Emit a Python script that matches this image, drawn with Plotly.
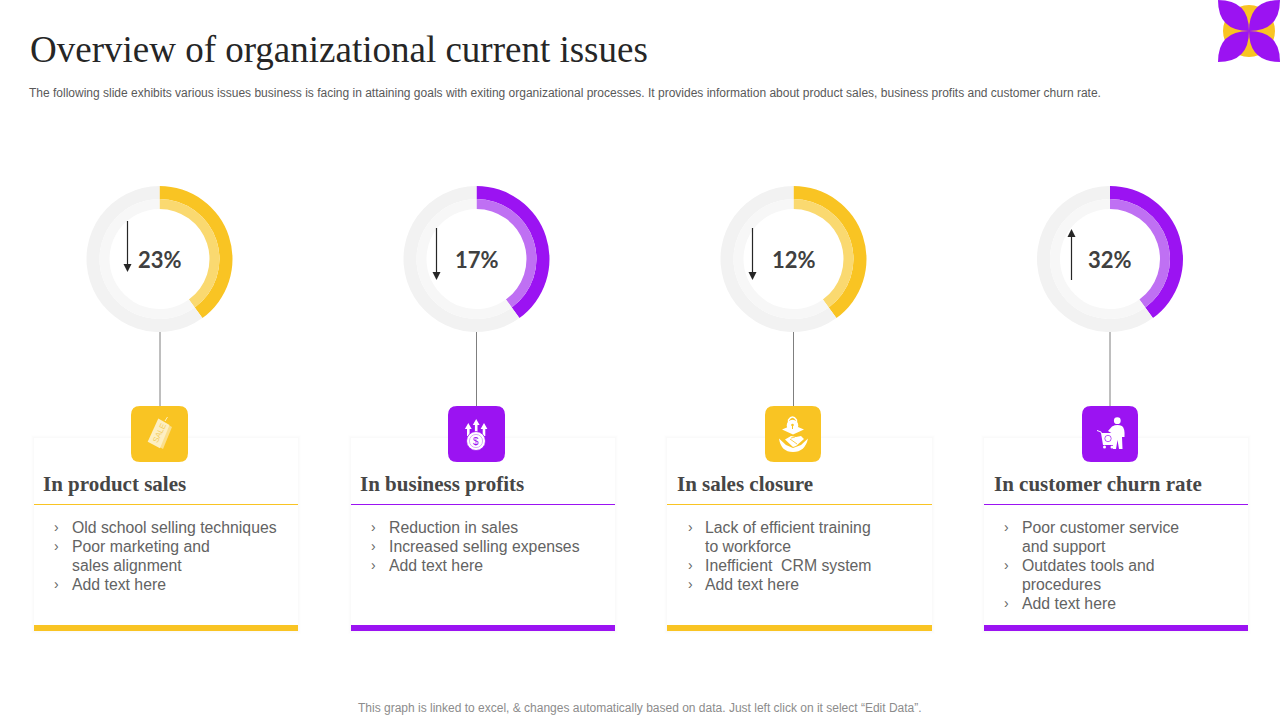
import plotly.graph_objects as go

# ---------- data ----------
card_titles = ["In product sales", "In business profits", "In sales closure", "In customer churn rate"]
percent_labels = ["23%", "17%", "12%", "32%"]
arc_filled = [40, 40, 40, 40]
arc_rest = [60, 60, 60, 60]
arrow_dirs = ["down", "down", "down", "up"]
card_lines = [
    [("›", "Old school selling techniques"), ("›", "Poor marketing and"), ("", "sales alignment"), ("›", "Add text here")],
    [("›", "Reduction in sales"), ("›", "Increased selling expenses"), ("›", "Add text here")],
    [("›", "Lack of efficient training"), ("", "to workforce"), ("›", "Inefficient  CRM system"), ("›", "Add text here")],
    [("›", "Poor customer service"), ("", "and support"), ("›", "Outdates tools and"), ("", "procedures"), ("›", "Add text here")],
]
title_text = "Overview of organizational current issues"
subtitle_text = ("The following slide exhibits various issues business is facing in attaining goals with exiting "
                 "organizational processes. It provides information about product sales, business profits and customer churn rate.")
footer_text = "This graph is linked to excel, & changes automatically based on data. Just left click on it select “Edit Data”."

# ---------- style ----------
YEL, YEL_L = "#F9C423", "#FAD970"
PUR, PUR_L = "#9B13F2", "#BF70F3"
accent = [YEL, PUR, YEL, PUR]
accent_l = [YEL_L, PUR_L, YEL_L, PUR_L]
W, H = 1280, 720
donut_cx = [159.5, 476.5, 793.5, 1110]
donut_cy = 259
R_OUT, R_MID, R_IN = 73, 60, 50
arrow_x = [127.5, 436.5, 752.5, 1071.5]
arrow_y = [(221, 272), (228, 280), (228, 280), (229, 280)]
card_x = [(34, 298), (351, 615), (667, 932), (984, 1248)]
card_title_x = [43, 360, 677, 994]
icon_x = [(131, 188), (448, 505), (765, 821), (1082, 1138)]
stem_x = [160, 476.5, 793.5, 1110]
bullet_x = [54, 371, 688, 1004]
text_x = [72, 389, 705, 1022]

fig = go.Figure()
shapes, ann = [], []


def rect(x0, y0, x1, y1, fill, op=1):
    shapes.append(dict(type="rect", x0=x0, y0=y0, x1=x1, y1=y1, fillcolor=fill, opacity=op,
                       line=dict(width=0), xref="x", yref="y", layer="above"))


def path(d, fill="white", stroke=None, sw=0):
    shapes.append(dict(type="path", path=d, fillcolor=fill, xref="x", yref="y", layer="above",
                       line=dict(color=stroke or "rgba(0,0,0,0)", width=sw)))


def circle(cx, cy, r, fill="white", stroke=None, sw=0):
    shapes.append(dict(type="circle", x0=cx - r, y0=cy - r, x1=cx + r, y1=cy + r, fillcolor=fill,
                       xref="x", yref="y", layer="above", line=dict(color=stroke or "rgba(0,0,0,0)", width=sw)))


def line(x0, y0, x1, y1, color, w=1):
    shapes.append(dict(type="line", x0=x0, y0=y0, x1=x1, y1=y1, xref="x", yref="y", layer="above",
                       line=dict(color=color, width=w)))


def text(x, y, s, size, color, family="Liberation Sans", anchor="left", angle=0):
    ann.append(dict(x=x, y=y, text=s, showarrow=False, xref="x", yref="y", xanchor=anchor, yanchor="middle",
                    textangle=angle, font=dict(family=family, size=size, color=color), borderpad=0, borderwidth=0))


def ring(cx, r_out, r_in, colors, vals):
    fig.add_trace(go.Pie(values=vals, sort=False, direction="clockwise", rotation=0,
                         hole=r_in / r_out, textinfo="none", hoverinfo="skip", showlegend=False,
                         marker=dict(colors=colors, line=dict(width=0)),
                         domain=dict(x=[(cx - r_out) / W, (cx + r_out) / W],
                                     y=[1 - (donut_cy + r_out) / H, 1 - (donut_cy - r_out) / H])))


# donuts
for i in range(4):
    vals = [arc_filled[i], arc_rest[i]]
    ring(donut_cx[i], R_OUT, R_MID, [accent[i], "#F2F2F2"], vals)
    ring(donut_cx[i], R_MID, R_IN, [accent_l[i], "#F7F7F7"], vals)
    text(donut_cx[i], 259.5, f"<b>{percent_labels[i]}</b>", 22, "#404040", "Lato", "center")
    # arrow
    x = arrow_x[i]
    y0, y1 = arrow_y[i]
    if arrow_dirs[i] == "down":
        line(x, y0, x, y1 - 6, "#262626", 1.2)
        path(f"M {x-4},{y1-8} L {x+4},{y1-8} L {x},{y1} Z", "#262626")
    else:
        line(x, y0 + 6, x, y1, "#262626", 1.2)
        path(f"M {x-4},{y0+8} L {x+4},{y0+8} L {x},{y0} Z", "#262626")
    # connector
    line(stem_x[i], 332, stem_x[i], 406, "#7F7F7F", 1)

# cards
for i in range(4):
    x0, x1 = card_x[i]
    for g, op in ((3, .004), (2, .006), (1, .008)):
        rect(x0 - g, 438 - g, x1 + g, 631 + g, "#000000", op)
    rect(x0, 438, x1, 631, "#FFFFFF")
    rect(x0, 625, x1, 631, accent[i])
    line(x0, 504.5, x1, 504.5, accent[i], 1)
    text(card_title_x[i], 484, f"<b>{card_titles[i]}</b>", 21, "#464646", "Liberation Serif")
    for j, (b, s) in enumerate(card_lines[i]):
        y = 527.5 + 19 * j
        if b:
            text(bullet_x[i], y - 0.5, b, 14, "#666666")
        text(text_x[i], y, s, 15.8, "#636363")
    # icon tile
    ix0, ix1 = icon_x[i]
    r = 9
    path(f"M {ix0+r},406 L {ix1-r},406 Q {ix1},406 {ix1},{406+r} L {ix1},{462-r} Q {ix1},462 {ix1-r},462 "
         f"L {ix0+r},462 Q {ix0},462 {ix0},{462-r} L {ix0},{406+r} Q {ix0},406 {ix0+r},406 Z", accent[i])

# icon 1: sale tags
path("M 163,422 L 172,427 L 163,449 L 152,443 Z", "#FBDF8C")
path("M 158.3,418.5 L 169.5,425 L 160,448.3 L 147.7,441.7 Z", "#FDEFC3")
line(165, 421, 167.5, 417, "#FDEFC3", 1)
text(159, 433, "SALE", 8, "#F3CE62", "Liberation Sans", "center", -65)

# icon 2: coin with three arrows
for ax, top in ((468.3, 423), (476.2, 419), (484, 423)):
    path(f"M {ax},{top} L {ax+3.4},{top+6} L {ax+1.3},{top+6} L {ax+1.3},436 L {ax-1.3},436 L {ax-1.3},{top+6} L {ax-3.4},{top+6} Z")
circle(476, 441, 9.5, "white", PUR, 0.8)
circle(476, 441, 6.6, "white", "#C58BF5", 0.7)
text(476, 441, "$", 10, PUR, "Liberation Sans", "center")

# icon 3: lock, roof and handshake bowl
circle(792.5, 425.5, 5.8)
path("M 788.5,423 L 788.5,420 Q 792.5,414 796.5,420 L 796.5,423", "rgba(0,0,0,0)", "white", 1.4)
circle(792.5, 425, 1.3, YEL)
line(792.5, 425, 792.5, 429, YEL, 1)
path("M 782,429.5 L 788,427 L 793,431 L 798,427 L 804,429.5 L 793,434.5 Z")
path("M 779,438.5 Q 781,452 793,452 Q 805,452 808,438.5 L 801,445 L 793,448 L 786,445 Z")
path("M 785,439.5 L 791,436 L 796,437 L 801,436 L 804,439 L 796,446 L 793,447 Z")
line(790, 439, 797, 444, YEL, 0.8)
line(791, 438, 795, 437, YEL, 0.8)

# icon 4: person with cart
circle(1117.3, 420.7, 3.4)
path("M 1112,426.5 Q 1117,424 1122,426 Q 1125,428 1124.5,437 L 1122,437 L 1122.5,449 L 1119,449 L 1117.5,440 "
     "L 1116,449 L 1113,449 L 1113,434 L 1108,431 Z")
path("M 1097,430 L 1101,431.5 L 1102,433 L 1115,433 L 1113,445 L 1103,445 L 1101,433 L 1100,432 L 1097,431 Z")
circle(1108, 438.5, 3.2, "white", PUR, 0.7)
circle(1104.5, 447, 1.5)
circle(1112, 447, 1.5)

# logo
circle(1249, 31, 26, YEL)
path("M 1218,0 Q 1249,0 1249,31 Q 1218,31 1218,0 Z", PUR)
path("M 1280,0 Q 1249,0 1249,31 Q 1280,31 1280,0 Z", PUR)
path("M 1218,62 Q 1249,62 1249,31 Q 1218,31 1218,62 Z", PUR)
path("M 1280,62 Q 1249,62 1249,31 Q 1280,31 1280,62 Z", PUR)

# headings
text(30, 49, title_text, 37, "#262626", "Liberation Serif")
text(29, 93, subtitle_text, 12, "#595959")
text(640, 707.5, footer_text, 12, "#8C8C8C", "Liberation Sans", "center")

fig.update_layout(
    width=W, height=H, margin=dict(l=0, r=0, t=0, b=0), paper_bgcolor="white", plot_bgcolor="white",
    showlegend=False, shapes=shapes, annotations=ann,
    xaxis=dict(range=[0, W], visible=False, fixedrange=True),
    yaxis=dict(range=[H, 0], visible=False, fixedrange=True),
)
fig.write_html("out.html", config=dict(displayModeBar=False),
               post_script="document.body.style.margin='0';document.body.style.overflow='hidden';")
